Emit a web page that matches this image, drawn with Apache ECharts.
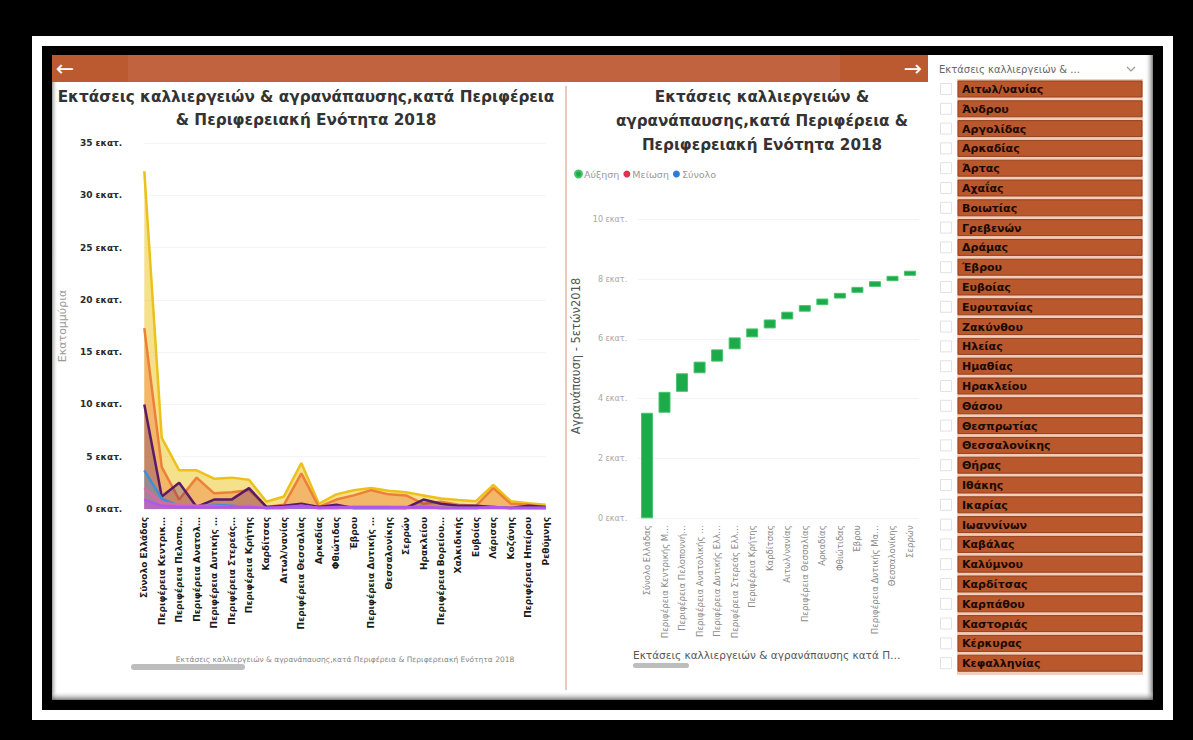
<!DOCTYPE html>
<html><head><meta charset="utf-8">
<script src="https://cdn.jsdelivr.net/npm/echarts@6/dist/echarts.min.js"></script>
<style>html,body{margin:0;padding:0;background:#000;}#c{width:1193px;height:740px;}</style>
</head><body><div id="c"></div>
<script>
// ---------- DATA ----------
const leftCategories = ['Σύνολο Ελλάδας','Περιφέρεια Κεντρικ…','Περιφέρεια Πελοπο…','Περιφέρεια Ανατολ…','Περιφέρεια Δυτικής …','Περιφέρεια Στερεάς…','Περιφέρεια Κρήτης','Καρδίτσας','Αιτωλ/νανίας','Περιφέρεια Θεσσαλίας','Αρκαδίας','Φθιώτιδας','Έβρου','Περιφέρεια Δυτικής …','Θεσσαλονίκης','Σερρών','Ηρακλείου','Περιφέρεια Βορείου…','Χαλκιδικής','Ευβοίας','Λάρισας','Κοζάνης','Περιφέρεια Ηπείρου','Ρεθύμνης'];
const yellowValues = [32.3, 6.8, 3.7, 3.7, 2.9, 3.0, 2.8, 0.7, 1.2, 4.4, 0.5, 1.4, 1.8, 2.0, 1.75, 1.6, 1.3, 1.0, 0.85, 0.75, 2.3, 0.75, 0.55, 0.4];
const orangeValues = [17.3, 4.0, 0.9, 3.0, 1.5, 1.6, 1.8, 0.2, 0.4, 3.4, 0.2, 0.9, 1.3, 1.8, 1.4, 1.3, 0.5, 0.7, 0.4, 0.3, 2.0, 0.5, 0.4, 0.2];
const purpleValues = [10.0, 1.2, 2.5, 0.2, 0.9, 0.9, 2.0, 0.2, 0.3, 0.5, 0.2, 0.4, 0.1, 0.1, 0.1, 0.1, 0.9, 0.5, 0.3, 0.3, 0.2, 0.1, 0.3, 0.2];
const blueValues = [3.7, 1.0, 0.3, 0.2, 0.4, 0.3, 0.2, 0.1, 0.1, 0.2, 0.1, 0.1, 0.1, 0.1, 0.1, 0.1, 0.1, 0.1, 0.1, 0.1, 0.1, 0.1, 0.1, 0.1];
const pinkValues = [2.0, 0.6, 0.4, 0.3, 0.3, 0.2, 0.3, 0.1, 0.1, 0.3, 0.1, 0.1, 0.2, 0.2, 0.2, 0.1, 0.2, 0.1, 0.1, 0.1, 0.2, 0.1, 0.1, 0.1];
const violetValues = [0.9, 0.3, 0.2, 0.2, 0.2, 0.2, 0.2, 0.1, 0.2, 0.3, 0.1, 0.2, 0.2, 0.2, 0.2, 0.2, 0.2, 0.1, 0.1, 0.1, 0.2, 0.1, 0.1, 0.1];
const leftTicks = [0, 5, 10, 15, 20, 25, 30, 35];

const rightCategories = ['Σύνολο Ελλάδας','Περιφέρεια Κεντρικής Μ…','Περιφέρεια Πελοποννή…','Περιφέρεια Ανατολικής …','Περιφέρεια Δυτικής Ελλ…','Περιφέρεια Στερεάς Ελλ…','Περιφέρεια Κρήτης','Καρδίτσας','Αιτωλ/νανίας','Περιφέρεια Θεσσαλίας','Αρκαδίας','Φθιώτιδας','Έβρου','Περιφέρεια Δυτικής Μα…','Θεσσαλονίκης','Σερρών'];
const increaseValues = [3.53, 0.70, 0.62, 0.39, 0.41, 0.40, 0.30, 0.30, 0.26, 0.22, 0.22, 0.19, 0.20, 0.19, 0.18, 0.17];
const rightTicks = [0, 2, 4, 6, 8, 10];

const slicerItems = ['Αιτωλ/νανίας','Άνδρου','Αργολίδας','Αρκαδίας','Άρτας','Αχαΐας','Βοιωτίας','Γρεβενών','Δράμας','Έβρου','Ευβοίας','Ευρυτανίας','Ζακύνθου','Ηλείας','Ημαθίας','Ηρακλείου','Θάσου','Θεσπρωτίας','Θεσσαλονίκης','Θήρας','Ιθάκης','Ικαρίας','Ιωαννίνων','Καβάλας','Καλύμνου','Καρδίτσας','Καρπάθου','Καστοριάς','Κέρκυρας','Κεφαλληνίας'];

const titleLines = ['Εκτάσεις καλλιεργειών & αγρανάπαυσης,κατά Περιφέρεια', '& Περιφερειακή Ενότητα 2018'];
const rightTitleLines = ['Εκτάσεις καλλιεργειών &', 'αγρανάπαυσης,κατά Περιφέρεια &', 'Περιφερειακή Ενότητα 2018'];
const legendNames = ['Αύξηση', 'Μείωση', 'Σύνολο'];

// ---------- BUILD ----------
const FONT = 'DejaVu Sans';
const baseValues = [];
let acc = 0;
increaseValues.forEach(v => { baseValues.push(+acc.toFixed(3)); acc += v; });

const els = [];
els.push({type:'rect', z:0, shape:{x:37,y:41,width:1131,height:674}, style:{fill:'none', stroke:'#fff', lineWidth:10}});
els.push({type:'rect', z:0, shape:{x:52,y:55,width:1101,height:645}, style:{fill:'#fff'}});
els.push({type:'rect', z:0, shape:{x:52,y:55,width:6,height:645}, style:{fill:new echarts.graphic.LinearGradient(0,0,1,0,[{offset:0,color:'rgba(90,90,90,0.6)'},{offset:1,color:'rgba(255,255,255,0)'}])}});
els.push({type:'rect', z:0, shape:{x:1145,y:55,width:8,height:645}, style:{fill:new echarts.graphic.LinearGradient(0,0,1,0,[{offset:0,color:'rgba(255,255,255,0)'},{offset:1,color:'rgba(90,90,90,0.8)'}])}});
els.push({type:'rect', z:0, shape:{x:52,y:691,width:1101,height:9}, style:{fill:new echarts.graphic.LinearGradient(0,0,0,1,[{offset:0,color:'rgba(255,255,255,0)'},{offset:1,color:'rgba(90,90,90,0.8)'}])}});
// orange header bar
els.push({type:'rect', z:1, shape:{x:52,y:55,width:876,height:27}, style:{fill:'#c1633e'}});
els.push({type:'rect', z:1, shape:{x:52,y:55,width:76,height:27}, style:{fill:'#bb5931'}});
els.push({type:'rect', z:1, shape:{x:840,y:55,width:88,height:27}, style:{fill:'#bb5931'}});
els.push({type:'text', z:2, style:{text:'←', x:65, y:68, align:'center', verticalAlign:'middle', fontSize:22, fontFamily:FONT, fill:'#fff'}});
els.push({type:'text', z:2, style:{text:'→', x:913, y:68, align:'center', verticalAlign:'middle', fontSize:22, fontFamily:FONT, fill:'#fff'}});
els.push({type:'line', z:1, shape:{x1:566,y1:86,x2:566,y2:690}, style:{stroke:'#ecc9bd', lineWidth:2}});
// titles
titleLines.forEach((t,i)=>els.push({type:'text', z:3, style:{text:t, x:306, y:97+i*23, align:'center', verticalAlign:'middle', fontSize:15.3, fontWeight:'bold', fontFamily:FONT, fill:'#333'}}));
rightTitleLines.forEach((t,i)=>els.push({type:'text', z:3, style:{text:t, x:762, y:97+i*24, align:'center', verticalAlign:'middle', fontSize:15.2, fontWeight:'bold', fontFamily:FONT, fill:'#333'}}));
els.push({type:'text', z:3, x:576, y:356, rotation:Math.PI/2, style:{text:'Αγρανάπαυση - 5ετών2018', x:0, y:0, align:'center', verticalAlign:'middle', fontSize:11.5, fontFamily:FONT, fill:'#555'}});
els.push({type:'text', z:3, style:{text:'Εκτάσεις καλλιεργειών & αγρανάπαυσης κατά Π…', x:633, y:655, align:'left', verticalAlign:'middle', fontSize:10.5, fontFamily:FONT, fill:'#555'}});
// scroll bars
els.push({type:'rect', z:3, shape:{x:131,y:664,width:114,height:6,r:3}, style:{fill:'#bdbdbd'}});
els.push({type:'rect', z:3, shape:{x:633,y:663,width:56,height:5,r:2.5}, style:{fill:'#bdbdbd'}});
// slicer header
els.push({type:'text', z:3, style:{text:'Εκτάσεις καλλιεργειών & ...', x:939, y:69, align:'left', verticalAlign:'middle', fontSize:10, fontFamily:FONT, fill:'#666'}});
els.push({type:'polyline', z:3, shape:{points:[[1127,67],[1131,71],[1135,67]]}, style:{stroke:'#999', lineWidth:1.2, fill:'none'}});
// slicer list
const rowTop0 = 81, pitch = 19.8, rowH = 16;
els.push({type:'rect', z:1, shape:{x:957,y:rowTop0-2,width:186,height:slicerItems.length*pitch+2}, style:{fill:'#f3cdb9'}});
slicerItems.forEach((name,i)=>{
  const y = rowTop0 + i*pitch;
  els.push({type:'rect', z:2, shape:{x:940.5,y:y+2.5,width:11,height:11}, style:{fill:'#fff', stroke:'#e2e2e2', lineWidth:1}});
  els.push({type:'rect', z:2, shape:{x:958,y:y,width:184,height:rowH}, style:{fill:'#b9572d', stroke:'#93401c', lineWidth:1}});
  els.push({type:'text', z:3, style:{text:name, x:962, y:y+rowH/2+0.5, align:'left', verticalAlign:'middle', fontSize:11, fontWeight:'bold', fontFamily:FONT, fill:'#1b0a04'}});
});

const lineSeries = [
  {name:'Σύνολο καλλιεργειών', data:yellowValues, color:'#ecc11a', op:0.5},
  {name:'Αροτραίες', data:orangeValues, color:'#ee7f38', op:0.42},
  {name:'Αγρανάπαυση', data:purpleValues, color:'#5a1a68', op:0.3},
  {name:'Δενδρώδεις', data:blueValues, color:'#3d8fdc', op:0.35},
  {name:'Αμπέλια', data:pinkValues, color:'#d66aa8', op:0.35},
  {name:'Λαχανικά', data:violetValues, color:'#b455f0', op:0.4}
].map((s,i)=>({
  type:'line', name:s.name, xAxisIndex:0, yAxisIndex:0, data:s.data, symbol:'none', z:2+i,
  lineStyle:{color:s.color, width:2.5}, itemStyle:{color:s.color},
  areaStyle:{color:s.color, opacity:s.op}
}));

const option = {
  backgroundColor:'#000',
  animation:false,
  textStyle:{fontFamily:FONT},
  graphic:{elements:els},
  legend:{
    data:legendNames, left:569, top:164, icon:'circle', itemWidth:7, itemHeight:7, itemGap:4,
    textStyle:{fontSize:9.5, color:'#999', padding:[0,0,0,-3]}, selectedMode:false
  },
  grid:[
    {left:144.3, top:143, width:401.4, height:366},
    {left:638.2, top:219.3, width:280.6, height:299}
  ],
  xAxis:[
    {type:'category', gridIndex:0, data:leftCategories, boundaryGap:false,
     axisLine:{show:false}, axisTick:{show:false},
     axisLabel:{rotate:90, interval:0, fontSize:9, fontWeight:'bold', color:'#1a1a1a', margin:8},
     name:'Εκτάσεις καλλιεργειών & αγρανάπαυσης,κατά Περιφέρεια & Περιφερειακή Ενότητα 2018',
     nameLocation:'middle', nameGap:146, nameTextStyle:{fontSize:7.5, color:'#888'}},
    {type:'category', gridIndex:1, data:rightCategories, boundaryGap:true,
     axisLine:{show:false}, axisTick:{show:false},
     axisLabel:{rotate:90, interval:0, fontSize:8.5, color:'#8a8a8a', margin:7}}
  ],
  yAxis:[
    {type:'value', gridIndex:0, min:leftTicks[0], max:leftTicks[leftTicks.length-1], interval:leftTicks[1]-leftTicks[0],
     axisLine:{show:false}, axisTick:{show:false},
     axisLabel:{formatter:v=>v+' εκατ.', fontSize:9, fontWeight:'bold', color:'#2a2a2a', margin:22},
     splitLine:{lineStyle:{color:'#f4f4f4'}},
     name:'Εκατομμύρια', nameLocation:'middle', nameGap:76, nameTextStyle:{fontSize:11, color:'#9a9a9a'}},
    {type:'value', gridIndex:1, min:rightTicks[0], max:rightTicks[rightTicks.length-1], interval:rightTicks[1]-rightTicks[0],
     axisLine:{show:false}, axisTick:{show:false},
     axisLabel:{formatter:v=>v+' εκατ.', fontSize:8, color:'#a8a8a8', margin:11},
     splitLine:{lineStyle:{color:'#f3f3f3'}}}
  ],
  series:[
    ...lineSeries,
    {type:'bar', name:'base', xAxisIndex:1, yAxisIndex:1, stack:'w', data:baseValues, barWidth:12,
     itemStyle:{color:'transparent'}, silent:true},
    {type:'bar', name:legendNames[0], xAxisIndex:1, yAxisIndex:1, stack:'w', data:increaseValues, barWidth:12,
     itemStyle:{color:'#1caa4a', borderColor:'#46c46c', borderWidth:1}},
    {type:'bar', name:legendNames[1], xAxisIndex:1, yAxisIndex:1, stack:'w', data:[], itemStyle:{color:'#d8364e'}},
    {type:'bar', name:legendNames[2], xAxisIndex:1, yAxisIndex:1, stack:'w', data:[], itemStyle:{color:'#2c7dd9'}}
  ]
};
const chart = echarts.init(document.getElementById('c'), null, {renderer:'svg'});
chart.setOption(option);
</script>
</body></html>
